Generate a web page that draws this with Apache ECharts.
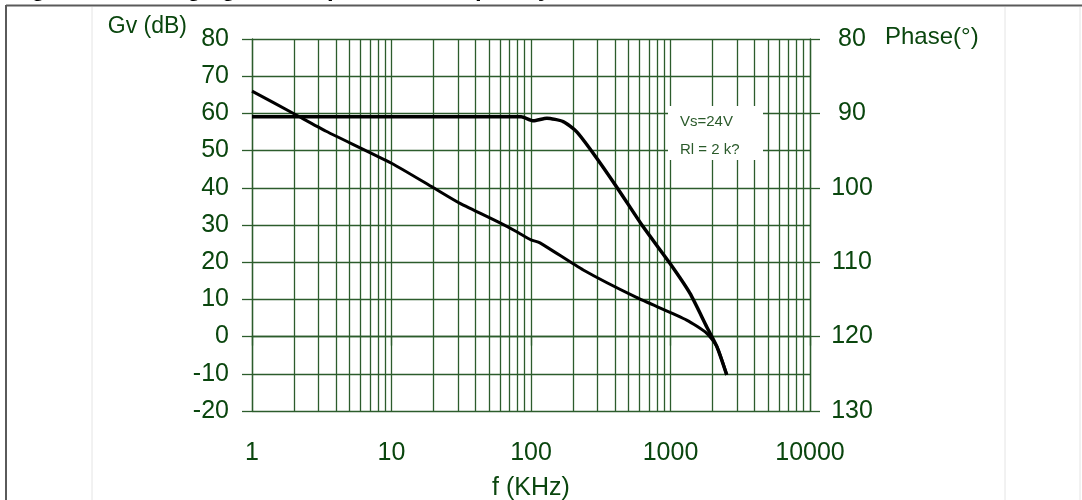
<!DOCTYPE html>
<html><head><meta charset="utf-8">
<script src="https://cdn.jsdelivr.net/npm/echarts@6/dist/echarts.min.js"></script>
<style>html,body{margin:0;padding:0;background:#fff}#c{width:1082px;height:500px}</style>
</head><body><div id="c"></div>
<script>
// ---- data ----
const xTickLabels = ['1', '10', '100', '1000', '10000'];
const gainTickLabels = ['-20', '-10', '0', '10', '20', '30', '40', '50', '60', '70', '80'];
const phaseTickLabels = ['80', '90', '100', '110', '120', '130'];

// Gain curve (f in kHz, Gv in dB) - left axis
const gainFreq = [1, 2, 3.4, 10, 20, 31, 59, 79, 100, 116, 237, 565, 1306, 1820, 2150, 2530];
const gainDb   = [66, 59.9, 55.2, 46.6, 40, 35.8, 30.7, 28.2, 26, 25.2, 17.9, 10.6, 4.45, 0.9, -2.7, -10.3];

// Phase curve (f in kHz, phase in degrees) - right axis (inverted)
const phaseFreq = [1, 85, 104, 130, 170, 212, 279, 410, 637, 990, 1380, 1820, 2150, 2530];
const phaseDeg  = [90.45, 90.45, 91, 90.65, 91.1, 92.45, 95.35, 99.85, 105.25, 110.15, 114.2, 118.7, 121.35, 125.15];

const noteLines = ['Vs=24V', 'Rl = 2 k?'];

// ---- styling ----
const FONT = '"Liberation Sans", Arial, Helvetica, sans-serif';
const TXT = '#0a460e';
const GRIDC = '#2c5c2c';

// minor log gridlines (2..9 of each decade)
const minorLines = [];
for (let d = 1; d < 10000; d *= 10) {
  for (let k = 2; k <= 9; k++) minorLines.push({ xAxis: k * d });
}

const chart = echarts.init(document.getElementById('c'), null, { renderer: 'canvas' });
chart.setOption({
  animation: false,
  backgroundColor: '#ffffff',
  grid: { left: 252, right: 272, top: 39, bottom: 89, containLabel: false, outerBoundsMode: 'none' },
  xAxis: {
    type: 'log', logBase: 10, min: 1, max: 10000,
    name: 'f (KHz)', nameLocation: 'middle', nameGap: 65,
    nameTextStyle: { color: TXT, fontSize: 25, fontFamily: FONT },
    axisLine: { show: true, lineStyle: { color: GRIDC, width: 1.3 } },
    axisTick: { show: true, length: 9, lineStyle: { color: GRIDC, width: 1.3 } },
    axisLabel: {
      color: TXT, fontSize: 25, fontFamily: FONT, margin: 30,
      formatter: v => xTickLabels[Math.round(Math.log10(v))]
    },
    splitLine: { show: true, lineStyle: { color: GRIDC, width: 1.3 } }
  },
  yAxis: [{
    type: 'value', min: -20, max: 80, interval: 10, position: 'left',
    name: 'Gv (dB)', nameLocation: 'end', nameGap: 12,
    nameTextStyle: { color: TXT, fontSize: 23, fontFamily: FONT, align: 'right', verticalAlign: 'middle', padding: [0, 65, 0, 0] },
    axisLine: { show: true, lineStyle: { color: GRIDC, width: 1.3 } },
    axisTick: { show: true, length: 10, lineStyle: { color: GRIDC, width: 1.3 } },
    axisLabel: { color: TXT, fontSize: 25, fontFamily: FONT, margin: 23,
      formatter: v => gainTickLabels[Math.round((v + 20) / 10)] },
    splitLine: { show: true, lineStyle: { color: GRIDC, width: 1.3 } }
  }, {
    type: 'value', min: 80, max: 130, interval: 10, position: 'right', inverse: true,
    name: 'Phase(°)', nameLocation: 'start', nameGap: 2,
    nameTextStyle: { color: TXT, fontSize: 24, fontFamily: FONT, align: 'left', verticalAlign: 'middle', padding: [0, 0, 0, 75] },
    axisLine: { show: true, lineStyle: { color: GRIDC, width: 1.3 } },
    axisTick: { show: true, length: 10, lineStyle: { color: GRIDC, width: 1.3 } },
    axisLabel: { color: TXT, fontSize: 25, fontFamily: FONT, margin: 42, align: 'center',
      formatter: v => phaseTickLabels[Math.round((v - 80) / 10)] },
    splitLine: { show: false }
  }],
  series: [{
    type: 'line', name: 'grid', data: [], z: 1, silent: true,
    markLine: {
      silent: true, symbol: ['none', 'none'], animation: false,
      label: { show: false },
      lineStyle: { color: GRIDC, width: 1.3, type: 'solid' },
      emphasis: { disabled: true },
      data: minorLines
    }
  }, {
    type: 'line', name: 'Gain', yAxisIndex: 0, z: 5,
    data: gainFreq.map((f, i) => [f, gainDb[i]]),
    showSymbol: false, symbol: 'none', smooth: 0.2,
    lineStyle: { color: '#000', width: 3 }
  }, {
    type: 'line', name: 'Phase', yAxisIndex: 1, z: 5,
    data: phaseFreq.map((f, i) => [f, phaseDeg[i]]),
    showSymbol: false, symbol: 'none', smooth: 0.2,
    lineStyle: { color: '#000', width: 3.5 }
  }],
  graphic: [
    { type: 'line', z: 0, shape: { x1: 6, y1: 5.5, x2: 1082, y2: 5.5 }, style: { stroke: '#5a5a5a', lineWidth: 2 } },
    { type: 'line', z: 0, shape: { x1: 6, y1: 5, x2: 6, y2: 500 }, style: { stroke: '#5a5a5a', lineWidth: 2 } },
    { type: 'line', z: 0, shape: { x1: 92, y1: 7, x2: 92, y2: 500 }, style: { stroke: '#e4e4e4', lineWidth: 1 } },
    { type: 'line', z: 0, shape: { x1: 1005, y1: 7, x2: 1005, y2: 500 }, style: { stroke: '#e4e4e4', lineWidth: 1 } },
    { type: 'line', z: 0, shape: { x1: 1080, y1: 7, x2: 1080, y2: 500 }, style: { stroke: '#e4e4e4', lineWidth: 1 } },
    { type: 'text', z: 0, style: { x: 10, y: 1, text: 'Figure 12. Voltage gain and phase vs frequency', fill: '#000',
      font: 'bold 24px ' + FONT, verticalAlign: 'bottom' } },
    { type: 'rect', z: 100, shape: { x: 668, y: 106, width: 95, height: 54 }, style: { fill: '#ffffff' } },
    { type: 'text', z: 101, style: { x: 680, y: 122, text: noteLines[0], fill: '#2a5a2a', font: '15px ' + FONT, verticalAlign: 'middle' } },
    { type: 'text', z: 101, style: { x: 680, y: 150, text: noteLines[1], fill: '#2a5a2a', font: '15px ' + FONT, verticalAlign: 'middle' } }
  ]
});
</script>
</body></html>
